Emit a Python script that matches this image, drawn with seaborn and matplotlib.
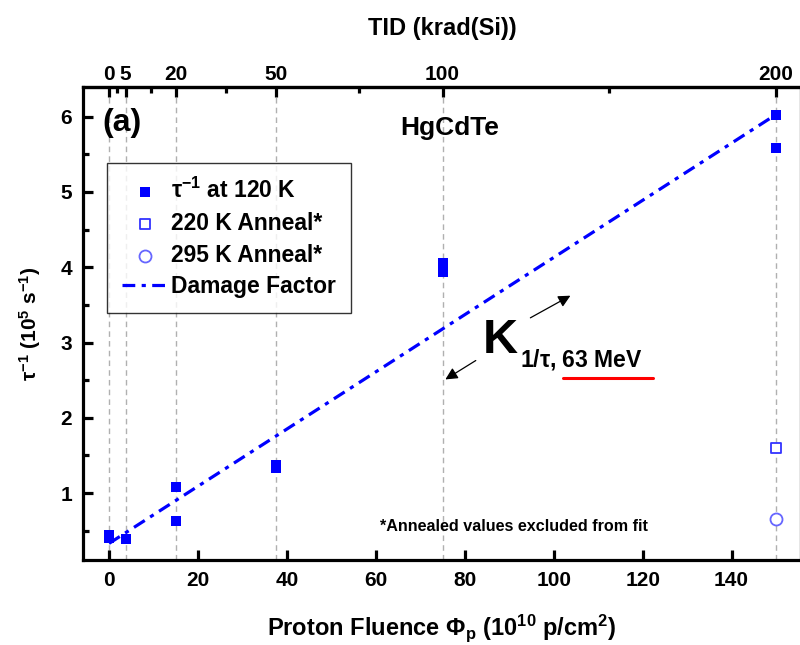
import matplotlib
matplotlib.use("Agg")
import matplotlib.pyplot as plt
import matplotlib.ticker as mticker
import seaborn as sns
import pandas as pd
import numpy as np

# ---------------- data ----------------
fluence_120K = [0, 0, 3.75, 15, 15, 37.5, 37.5, 75, 75, 150, 150]
tau_inv_120K = [0.40, 0.44, 0.39, 1.08, 0.63, 1.33, 1.37, 3.94, 4.06, 6.02, 5.58]
fluence_220K = [150]
tau_inv_220K = [1.60]
fluence_295K = [150]
tau_inv_295K = [0.66]
fit_fluence = [0, 150]
fit_tau_inv = [0.33, 6.03]
tid_major = [0, 5, 20, 50, 100, 200]
tid_minor = [2.5, 12.5, 35, 75, 150]
x_ticks = [0, 20, 40, 60, 80, 100, 120, 140]
y_ticks = [1, 2, 3, 4, 5, 6]

sns.set_theme(style="white")
FONT = ["Liberation Sans", "DejaVu Sans"]
plt.rcParams["font.family"] = FONT
plt.rcParams["font.weight"] = "bold"
plt.rcParams["text.color"] = "black"
plt.rcParams["axes.labelcolor"] = "black"
plt.rcParams["xtick.color"] = "black"
plt.rcParams["ytick.color"] = "black"
plt.rcParams["mathtext.fontset"] = "custom"
plt.rcParams["mathtext.rm"] = "Liberation Sans:bold"
plt.rcParams["mathtext.it"] = "Liberation Sans:bold"
plt.rcParams["mathtext.bf"] = "Liberation Sans:bold"
plt.rcParams["mathtext.default"] = "rm"

BLUE = "#0000FF"

fig = plt.figure(figsize=(8, 6.45), dpi=100)
ax = fig.add_axes([83 / 800, 1 - 560 / 645, 718 / 800, 473 / 645])

df120 = pd.DataFrame({"x": fluence_120K, "y": tau_inv_120K})
df220 = pd.DataFrame({"x": fluence_220K, "y": tau_inv_220K})
df295 = pd.DataFrame({"x": fluence_295K, "y": tau_inv_295K})
dffit = pd.DataFrame({"x": fit_fluence, "y": fit_tau_inv})

# vertical dashed grid at TID tick positions
for t in tid_major:
    ax.axvline(t * 0.75, color="#b0b0b0", ls=(0, (4, 3)), lw=1.0, zorder=0)

sns.lineplot(data=dffit, x="x", y="y", ax=ax, color=BLUE, lw=2.3,
             label="Damage Factor", zorder=3)
ax.lines[-1].set_dashes([4, 2, 1.3, 2])
sns.scatterplot(data=df120, x="x", y="y", ax=ax, marker="s", s=60,
                color=BLUE, edgecolor=BLUE, linewidth=0,
                label=r"$\tau^{-1}$ at 120 K", zorder=4)
sns.scatterplot(data=df220, x="x", y="y", ax=ax, marker="s", s=60,
                facecolor="white", edgecolor="#3333FF", linewidth=1.3,
                label="220 K Anneal*", zorder=4)
sns.scatterplot(data=df295, x="x", y="y", ax=ax, marker="o", s=75,
                facecolor="white", edgecolor="#6666FF", linewidth=1.3,
                label="295 K Anneal*", zorder=4)

ax.set_xlim(-5.85, 155.6)
ax.set_ylim(0.11, 6.395)
ax.set_xticks(x_ticks)
ax.set_yticks(y_ticks)
ax.yaxis.set_minor_locator(mticker.MultipleLocator(0.5))

for s in ax.spines.values():
    s.set_linewidth(2.3)
    s.set_color("black")
ax.tick_params(axis="both", which="major", direction="in", length=7, width=2.3,
               labelsize=15, colors="black", pad=8)
ax.tick_params(axis="y", which="minor", direction="in", length=4, width=2.3, left=True)
ax.tick_params(axis="x", which="both", bottom=True, top=False)
ax.tick_params(axis="y", which="both", left=True, right=False)
for lab in ax.get_xticklabels() + ax.get_yticklabels():
    lab.set_fontweight("bold")

ax.set_xlabel(r"Proton Fluence $\Phi_{p}$ (10$^{10}$ p/cm$^{2}$)", fontsize=17,
              fontweight="bold", labelpad=16)
ax.set_ylabel(r"$\tau^{-1}$ (10$^{5}$ s$^{-1}$)", fontsize=15, fontweight="bold",
              labelpad=12)

# top TID axis
sec = ax.secondary_xaxis("top", functions=(lambda f: f * 4 / 3, lambda t: t * 0.75))
sec.set_xticks(tid_major)
sec.xaxis.set_minor_locator(mticker.FixedLocator(tid_minor))
sec.tick_params(axis="x", which="major", direction="in", length=7, width=2.3,
                labelsize=15, pad=2, colors="black")
sec.tick_params(axis="x", which="minor", direction="in", length=4, width=2.3)
sec.spines["top"].set_linewidth(2.3)
for lab in sec.get_xticklabels():
    lab.set_fontweight("bold")
sec.set_xlabel("TID (krad(Si))", fontsize=17, fontweight="bold", labelpad=22)

# legend
handles, labels = ax.get_legend_handles_labels()
order = [labels.index(l) for l in [r"$\tau^{-1}$ at 120 K", "220 K Anneal*",
                                   "295 K Anneal*", "Damage Factor"]]
leg = ax.legend([handles[i] for i in order], [labels[i] for i in order],
                loc="upper left", bbox_to_anchor=(0.033, 0.839), borderaxespad=0,
                frameon=True, fancybox=False, edgecolor="black",
                handlelength=2.0, handletextpad=0.15, labelspacing=0.38,
                borderpad=0.65, prop={"weight": "bold", "size": 16.5})
leg.get_frame().set_linewidth(1.0)

# annotations
ax.text(-1.4, 5.92, "(a)", fontsize=23, fontweight="bold", va="center", ha="left")
ax.text(76.5, 5.85, "HgCdTe", fontsize=19, fontweight="bold", va="center", ha="center")
ax.text(84.0, 2.86, "K", fontsize=35, fontweight="bold", va="baseline", ha="left")
ax.text(92.4, 2.68, r"1/$\tau$, 63 MeV", fontsize=16.5, fontweight="bold",
        va="baseline", ha="left")
ax.plot([102.1, 122.3], [2.53, 2.53], color="red", lw=2.2)
ax.annotate("", xy=(104.3, 3.64), xytext=(94.2, 3.31),
            arrowprops=dict(arrowstyle="-|>", color="black", lw=0.9, mutation_scale=18))
ax.annotate("", xy=(75.1, 2.49), xytext=(83.0, 2.78),
            arrowprops=dict(arrowstyle="-|>", color="black", lw=0.9, mutation_scale=18))
ax.text(91.1, 0.56, "*Annealed values excluded from fit", fontsize=11.6,
        fontweight="bold", ha="center", va="center")

fig.savefig("out.png", dpi=100)
